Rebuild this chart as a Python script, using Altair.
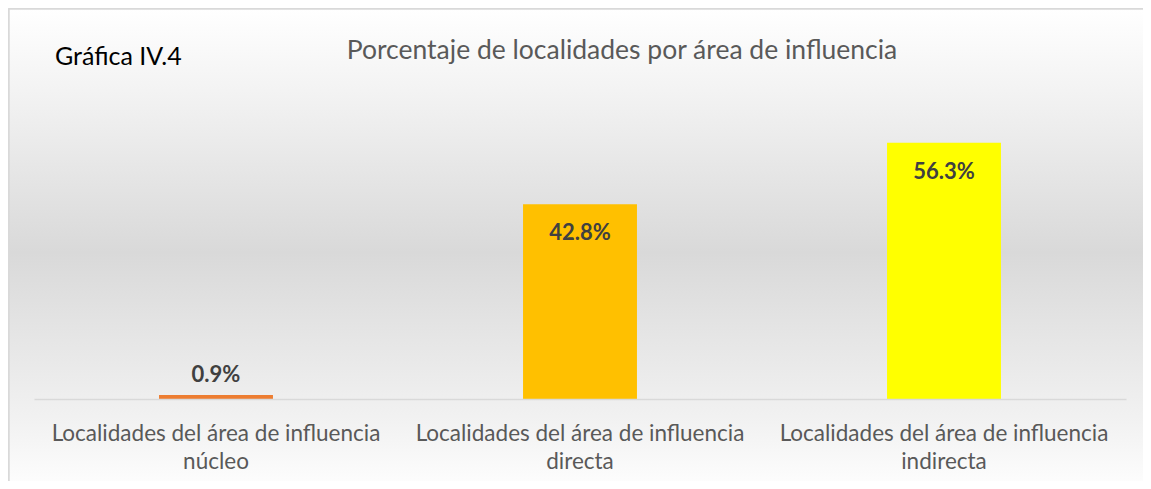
import altair as alt
import pandas as pd

categories = [
    "Localidades del área de influencia núcleo",
    "Localidades del área de influencia directa",
    "Localidades del área de influencia indirecta",
]
values = [0.9, 42.8, 56.3]
labels = ["0.9%", "42.8%", "56.3%"]
colors = ["#ED7D31", "#FFC000", "#FFFF00"]

df = pd.DataFrame({"cat": categories, "val": values, "lab": labels, "color": colors})

W, H = 1092, 273
FONT = "Lato"

x_enc = alt.X(
    "cat:N",
    sort=categories,
    title=None,
    scale=alt.Scale(paddingInner=0.687, paddingOuter=0.3435),
    axis=alt.Axis(
        labelExpr="[substring(datum.label, 0, 34), substring(datum.label, 35)]",
        labelAngle=0,
        labelFont=FONT,
        labelFontSize=22.5,
        labelColor="#595959",
        labelPadding=23,
        labelLineHeight=28,
        labelLimit=0,
        ticks=False,
        domainColor="#D9D9D9",
        domainWidth=1.5,
        grid=False,
        zindex=1,
    ),
)
y_enc = alt.Y("val:Q", scale=alt.Scale(domain=[0, 60]), axis=None)

bg = alt.Chart(df).mark_rect(
    fill=alt.Gradient(
        gradient="linear",
        x1=0, y1=0, x2=0, y2=1,
        stops=[
            alt.GradientStop(color="#FFFFFF", offset=0),
            alt.GradientStop(color="#F2F2F2", offset=0.18),
            alt.GradientStop(color="#D9D9D9", offset=0.5),
            alt.GradientStop(color="#F2F2F2", offset=0.85),
            alt.GradientStop(color="#FFFFFF", offset=1),
        ],
    ),
    stroke="#D9D9D9",
    strokeWidth=1.5,
).encode(
    x=alt.value(-25), x2=alt.value(1125), y=alt.value(-117), y2=alt.value(370)
)

bars = alt.Chart(df).mark_bar().encode(
    x=x_enc,
    y=y_enc,
    color=alt.Color("color:N", scale=None),
)

txt_in = alt.Chart(df).transform_filter("datum.val > 5").mark_text(
    font=FONT, fontSize=22, fontWeight="bold", color="#404040", baseline="middle", dy=29
).encode(x=alt.X("cat:N", sort=categories), y="val:Q", text="lab:N")

txt_out = alt.Chart(df).transform_filter("datum.val <= 5").mark_text(
    font=FONT, fontSize=22, fontWeight="bold", color="#404040", baseline="middle", dy=-20
).encode(x=alt.X("cat:N", sort=categories), y="val:Q", text="lab:N")

gtitle = alt.Chart(df).transform_filter("datum.val > 50").mark_text(
    font=FONT, fontSize=25, color="#000000", align="left", baseline="alphabetic"
).encode(x=alt.value(21), y=alt.value(-61), text=alt.value("Gráfica IV.4"))

mtitle = alt.Chart(df).transform_filter("datum.val > 50").mark_text(
    font=FONT, fontSize=26.5, color="#595959", align="center", baseline="alphabetic"
).encode(
    x=alt.value(588),
    y=alt.value(-67),
    text=alt.value("Porcentaje de localidades por área de influencia"),
)

chart = alt.layer(bg, bars, txt_in, txt_out, gtitle, mtitle).properties(
    width=W,
    height=H,
    autosize=alt.AutoSizeParams(type="none"),
    padding={"left": 26, "top": 118, "right": 17, "bottom": 82},
).configure_view(stroke=None).configure(background="#FFFFFF")

chart.save("out.html", embed_options={"renderer": "svg", "actions": False})
